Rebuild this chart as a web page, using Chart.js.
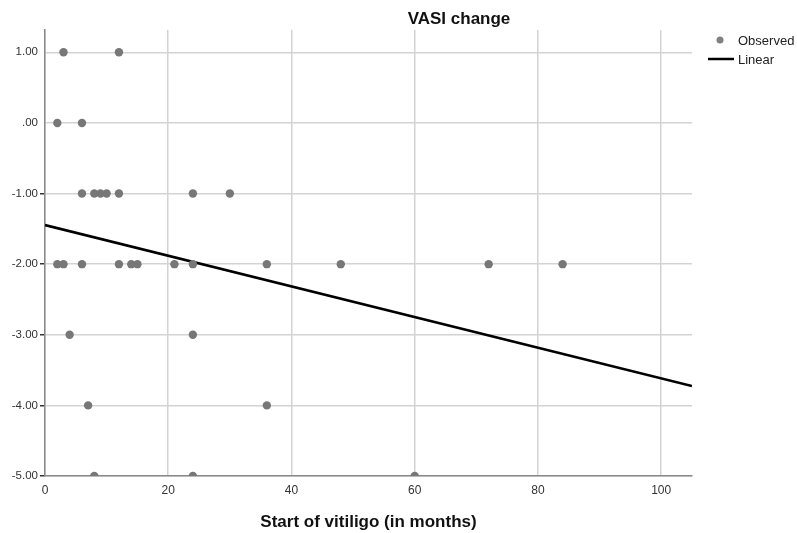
<!DOCTYPE html>
<html>
<head>
<meta charset="utf-8">
<script src="https://cdn.jsdelivr.net/npm/chart.js@4"></script>
<style>
  body { margin: 0; background: #fff; }
  #wrap { width: 797px; height: 533px; }
</style>
</head>
<body>
<div id="wrap"><canvas id="vasiChart"></canvas></div>
<script>
// months since vitiligo started vs VASI change
const startMonths = [3, 12, 2, 6, 6, 8, 9, 10, 12, 24, 30,
  2, 3, 6, 12, 14, 15, 21, 24, 36, 48, 72, 84,
  4, 24, 7, 36, 8, 24, 60];
const vasiChange = [1, 1, 0, 0, -1, -1, -1, -1, -1, -1, -1,
  -2, -2, -2, -2, -2, -2, -2, -2, -2, -2, -2, -2,
  -3, -3, -4, -4, -5, -5, -5];

// fitted line endpoints
const fitX = [0, 105];
const fitY = [-1.447, -3.726];

const xTicks = [0, 20, 40, 60, 80, 100];
const yTicks = [1, 0, -1, -2, -3, -4, -5];

const observed = startMonths.map((m, i) => ({x: m, y: vasiChange[i]}));
const linear = fitX.map((m, i) => ({x: m, y: fitY[i]}));

const FONT = "'Liberation Sans', Arial, sans-serif";

const extras = {
  id: "extras",
  afterDraw(chart) {
    const ctx = chart.ctx;
    ctx.save();
    ctx.fillStyle = "#111";
    ctx.font = "bold 17px " + FONT;
    ctx.textAlign = "center";
    ctx.textBaseline = "middle";
    ctx.fillText("VASI change", 459, 19);

    // legend
    ctx.font = "13px " + FONT;
    ctx.textAlign = "left";
    ctx.fillStyle = "#808080";
    ctx.beginPath();
    ctx.arc(720, 40, 3.5, 0, Math.PI * 2);
    ctx.fill();
    ctx.fillStyle = "#222";
    ctx.fillText(chart.data.datasets[0].label, 738, 41);
    ctx.strokeStyle = "#000";
    ctx.lineWidth = 2.5;
    ctx.beginPath();
    ctx.moveTo(708, 59);
    ctx.lineTo(734, 59);
    ctx.stroke();
    ctx.fillText(chart.data.datasets[1].label, 738, 60);
    ctx.restore();
  }
};

new Chart("vasiChart", {
  type: "scatter",
  data: {
    datasets: [{
      label: "Observed",
      data: observed,
      backgroundColor: "#777777",
      borderWidth: 0,
      pointRadius: 4.2,
      clip: 0
    }, {
      type: "line",
      label: "Linear",
      data: linear,
      borderColor: "#000",
      borderWidth: 2.6,
      pointRadius: 0,
      fill: false
    }]
  },
  options: {
    responsive: true,
    maintainAspectRatio: false,
    animation: false,
    layout: { padding: { top: 30, right: 105, left: 0, bottom: 0 } },
    plugins: {
      legend: { display: false },
      tooltip: { enabled: false }
    },
    scales: {
      x: {
        type: "linear",
        min: 0,
        max: 105,
        afterBuildTicks: s => { s.ticks = xTicks.map(v => ({value: v})); },
        afterFit: s => { s.height = 57; },
        ticks: { font: { family: FONT, size: 12 }, color: "#333", padding: 2, maxRotation: 0 },
        grid: { color: "#d3d3d3", lineWidth: 1.5, tickLength: 5, tickColor: "transparent" },
        border: { color: "#8a8a8a", width: 1.5 },
        title: {
          display: true,
          text: "Start of vitiligo (in months)",
          font: { family: FONT, size: 17, weight: "bold" },
          color: "#111",
          padding: { top: 0, bottom: 0 }
        }
      },
      y: {
        min: -5,
        max: 1.316,
        afterBuildTicks: s => { s.ticks = yTicks.map(v => ({value: v})); },
        afterFit: s => { s.width = 45; },
        ticks: {
          font: { family: FONT, size: 11.5 },
          color: "#333",
          padding: 2,
          callback: v => {
            const t = Math.abs(v).toFixed(2).replace(/^0/, "");
            return (v < 0 ? "-" : "") + t;
          }
        },
        grid: {
          color: "#d3d3d3",
          lineWidth: 1.5,
          tickLength: 5,
          tickColor: c => (c.tick && c.tick.value < 0 ? "#333" : "transparent")
        },
        border: { color: "#8a8a8a", width: 1.5 }
      }
    }
  },
  plugins: [extras]
});
</script>
</body>
</html>
